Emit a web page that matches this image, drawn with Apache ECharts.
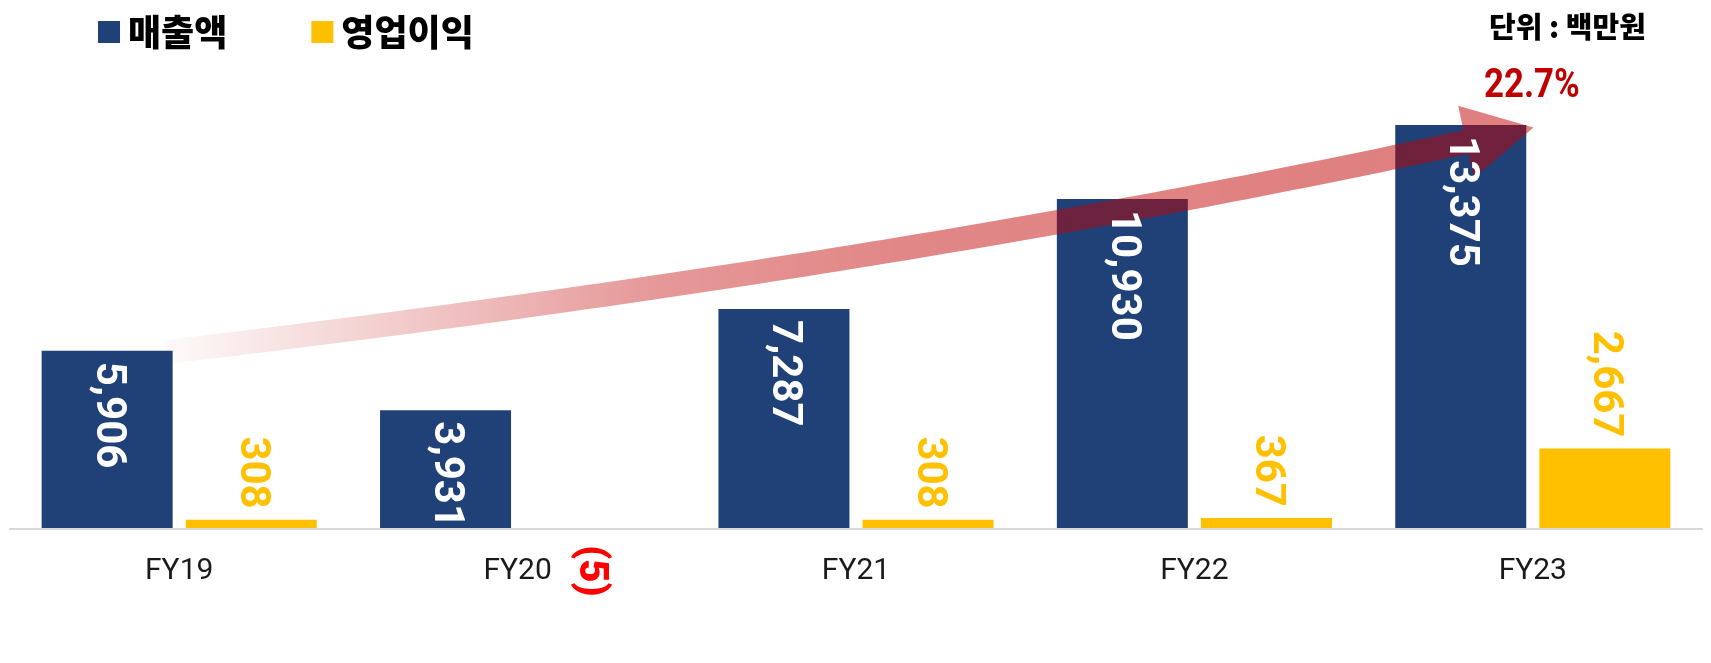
<!DOCTYPE html>
<html><head><meta charset="utf-8">
<script src="https://cdn.jsdelivr.net/npm/echarts@6/dist/echarts.min.js"></script>
<style>html,body{margin:0;padding:0;background:#fff;}#c{width:1711px;height:663px;}</style>
</head><body><div id="c"></div>
<script>
// ---- data ----
const categories = ['FY19', 'FY20', 'FY21', 'FY22', 'FY23'];
const salesValues = [5906, 3931, 7287, 10930, 13375];
const profitValues = [308, -5, 308, 367, 2667];
const seriesNames = ['매출액', '영업이익'];
const unitText = '단위 : 백만원';
const growthText = '22.7%';

// ---- styles ----
const NAVY = '#1F4178', GOLD = '#FFC000', RED = '#C00000';
const fmt = v => v < 0 ? '(' + Math.abs(v).toLocaleString('en-US') + ')' : v.toLocaleString('en-US');

// decoration geometry (pixel space) for the growth arrow
function buildArrow() {
  const P0 = [166, 352], P1 = [893, 266], P2 = [1466, 142];
  const half = 12, headHalf = 37, headLen = 69, N = 80;
  const up = [], down = [];
  let tEnd = null;
  for (let i = 0; i <= N; i++) {
    const t = i / N, mt = 1 - t;
    const x = mt * mt * P0[0] + 2 * mt * t * P1[0] + t * t * P2[0];
    const y = mt * mt * P0[1] + 2 * mt * t * P1[1] + t * t * P2[1];
    let dx = 2 * mt * (P1[0] - P0[0]) + 2 * t * (P2[0] - P1[0]);
    let dy = 2 * mt * (P1[1] - P0[1]) + 2 * t * (P2[1] - P1[1]);
    const L = Math.hypot(dx, dy); dx /= L; dy /= L;
    const nx = dy, ny = -dx; // upward normal
    up.push([x + nx * half, y + ny * half]);
    down.push([x - nx * half, y - ny * half]);
    if (i === N) tEnd = [dx, dy, nx, ny];
  }
  const [dx, dy, nx, ny] = tEnd;
  const head = [
    [P2[0] + nx * headHalf, P2[1] + ny * headHalf],
    [P2[0] + dx * headLen, P2[1] + dy * headLen],
    [P2[0] - nx * headHalf, P2[1] - ny * headHalf]
  ];
  return up.concat(head, down.reverse());
}

const chart = echarts.init(document.getElementById('c'));
const barBase = { type: 'bar', barWidth: 131, barGap: '10%', animation: false };
const xBase = {
  type: 'category', data: categories,
  axisTick: { show: false }
};

chart.setOption({
  animation: false,
  grid: { left: 10, right: 9, top: 76, bottom: 133.85, containLabel: false },
  legend: {
    data: seriesNames, left: 93, top: 9, icon: 'rect',
    itemWidth: 22, itemHeight: 22, itemGap: 84,
    textStyle: { fontFamily: '"Noto Sans CJK KR"', fontWeight: 900, fontSize: 36, color: '#000', padding: [16, 0, 0, 3] }
  },
  xAxis: [
    Object.assign({}, xBase, {
      position: 'bottom', z: 3,
      axisLine: { lineStyle: { color: '#D9D9D9', width: 2 } },
      axisLabel: { fontFamily: 'Roboto', fontSize: 30, color: '#1a1a1a', margin: 27 }
    }),
    Object.assign({}, xBase, { position: 'top', show: false })
  ],
  yAxis: { type: 'value', min: -5, max: 15000, show: false, splitLine: { show: false } },
  graphic: [
    { type: 'polygon', z: 5, silent: true,
      shape: { points: buildArrow() },
      style: { fill: new echarts.graphic.LinearGradient(166, 0, 1466, 0, [
        { offset: 0, color: 'rgba(192,0,0,0.02)' },
        { offset: 0.215, color: 'rgba(192,0,0,0.24)' },
        { offset: 0.372, color: 'rgba(192,0,0,0.40)' },
        { offset: 0.565, color: 'rgba(192,0,0,0.47)' },
        { offset: 1, color: 'rgba(192,0,0,0.5)' }
      ], true) } },
    { type: 'text', left: 1489, top: 12, z: 6,
      style: { text: unitText, font: '900 29px "Noto Sans CJK KR"', fill: '#000' } },
    { type: 'text', x: 1484, y: 66, scaleX: 0.85, z: 6,
      style: { text: growthText, font: 'bold 41px Roboto', fill: RED, align: 'left', verticalAlign: 'top' } }
  ],
  series: [
    Object.assign({}, barBase, { name: seriesNames[0], data: salesValues, itemStyle: { color: NAVY }, z: 2 }),
    Object.assign({}, barBase, { name: seriesNames[1], data: profitValues, itemStyle: { color: GOLD }, z: 2 }),
    // label carriers on a hidden twin axis so the labels sit above the arrow
    Object.assign({}, barBase, {
      name: 'lbl-sales', xAxisIndex: 1, data: salesValues, z: 10, silent: true,
      itemStyle: { color: 'rgba(0,0,0,0)' },
      label: { show: true, position: 'insideTop', rotate: -90, align: 'left', verticalAlign: 'middle',
        distance: 11, color: '#fff', fontFamily: 'Roboto', fontWeight: 'bold', fontSize: 42,
        formatter: p => fmt(p.value) }
    }),
    Object.assign({}, barBase, {
      name: 'lbl-profit', xAxisIndex: 1, z: 10, silent: true,
      itemStyle: { color: 'rgba(0,0,0,0)' },
      data: profitValues.map(v => v < 0
        ? { value: v, label: { position: 'bottom', align: 'left', distance: 16, color: '#FF0000', fontSize: 40, fontWeight: 900 } }
        : { value: v }),
      label: { show: true, position: 'top', rotate: -90, align: 'right', verticalAlign: 'middle',
        distance: 11, color: GOLD, fontFamily: 'Roboto', fontWeight: 'bold', fontSize: 42,
        formatter: p => fmt(p.value) }
    })
  ]
});
</script></body></html>
